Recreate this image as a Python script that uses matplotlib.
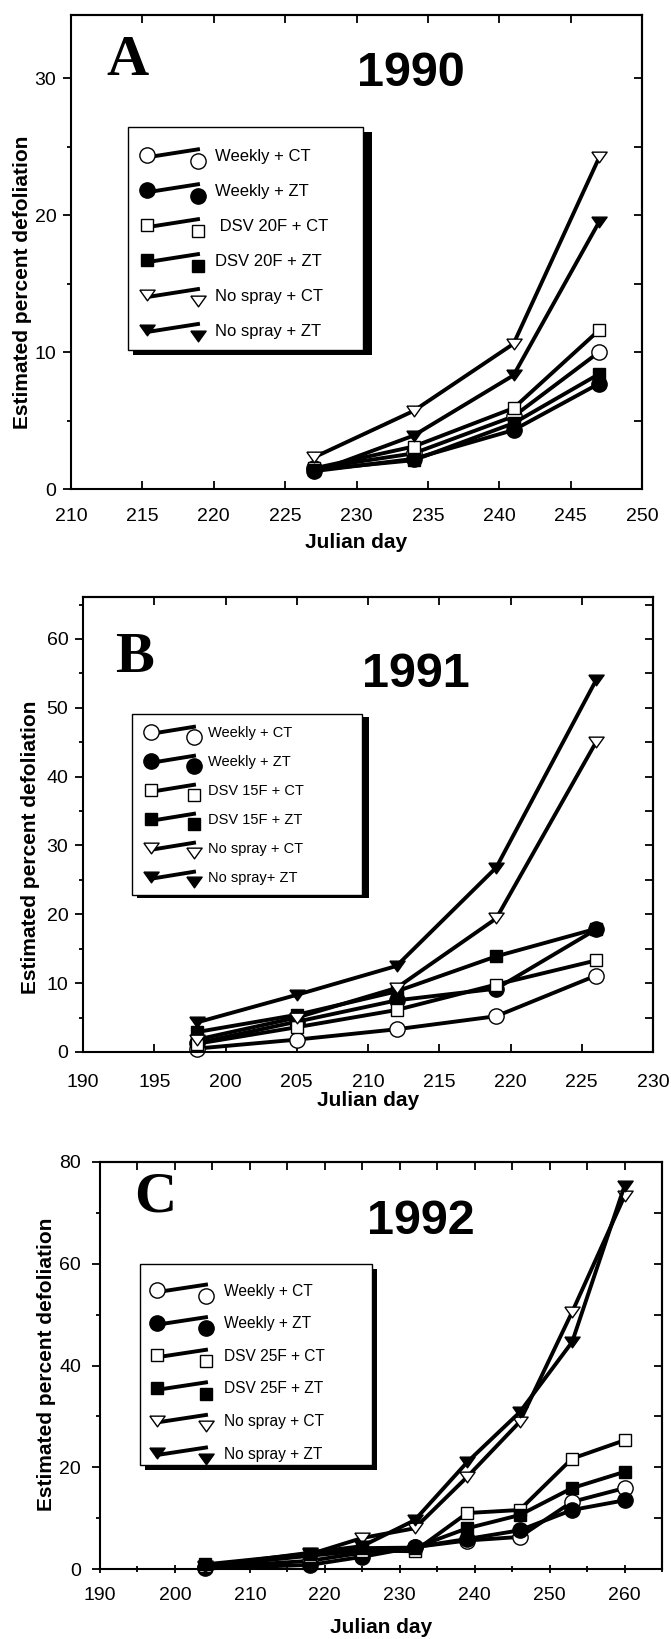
import matplotlib.pyplot as plt
from matplotlib.ticker import MultipleLocator
from matplotlib.patches import Rectangle
from matplotlib.lines import Line2D
from matplotlib.legend_handler import HandlerLine2D

W, H = 671, 1639

# ---- 1990 (panel A)
days_1990 = [227, 234, 241, 247]
weekly_ct_1990 = [1.5, 2.6, 5.3, 10.0]
weekly_zt_1990 = [1.3, 2.2, 4.3, 7.7]
dsv_ct_1990 = [1.5, 3.1, 5.9, 11.6]
dsv_zt_1990 = [1.4, 2.1, 4.8, 8.4]
nospray_ct_1990 = [2.3, 5.7, 10.6, 24.2]
nospray_zt_1990 = [1.2, 3.9, 8.3, 19.5]
labels_1990 = ["Weekly + CT", "Weekly + ZT", " DSV 20F + CT", "DSV 20F + ZT",
               "No spray + CT", "No spray + ZT"]

# ---- 1991 (panel B)
days_1991 = [198, 205, 212, 219, 226]
weekly_ct_1991 = [0.5, 1.8, 3.3, 5.2, 11.1]
weekly_zt_1991 = [1.3, 4.4, 7.5, 9.2, 17.8]
dsv_ct_1991 = [1.2, 3.6, 6.1, 9.8, 13.3]
dsv_zt_1991 = [2.9, 5.4, 8.8, 13.9, 17.9]
nospray_ct_1991 = [1.8, 5.0, 9.3, 19.4, 45.0]
nospray_zt_1991 = [4.3, 8.3, 12.5, 26.8, 54.0]
labels_1991 = ["Weekly + CT", "Weekly + ZT", "DSV 15F + CT", "DSV 15F + ZT",
               "No spray + CT", "No spray+ ZT"]

# ---- 1992 (panel C)
days_1992 = [204, 218, 225, 232, 239, 246, 253, 260]
weekly_ct_1992 = [0.3, 1.6, 3.2, 4.3, 5.6, 6.3, 13.2, 15.9]
weekly_zt_1992 = [0.1, 0.8, 2.4, 4.3, 5.9, 7.6, 11.6, 13.5]
dsv_ct_1992 = [0.5, 2.6, 3.6, 3.5, 11.0, 11.6, 21.7, 25.3]
dsv_zt_1992 = [0.9, 3.0, 4.1, 4.2, 8.0, 10.6, 15.9, 19.1]
nospray_ct_1992 = [0.4, 2.9, 6.1, 8.0, 18.1, 28.9, 50.5, 73.3]
nospray_zt_1992 = [0.5, 3.2, 4.5, 9.6, 21.0, 30.8, 44.6, 75.3]
labels_1992 = ["Weekly + CT", "Weekly + ZT", "DSV 25F + CT", "DSV 25F + ZT",
               "No spray + CT", "No spray + ZT"]

# marker style per treatment (open = CT, filled = ZT)
TRI = [(-1, 0.7), (1, 0.7), (0, -0.7), (-1, 0.7)]
MARKERS = [("o", "white", 11), ("o", "black", 11), ("s", "white", 8),
           ("s", "black", 8), (TRI, "white", 11), (TRI, "black", 11)]

plt.rcParams['font.family'] = ['Liberation Sans', 'DejaVu Sans']


class SlantHandler(HandlerLine2D):
    """Legend key like the original: line tilted up, right marker dropped."""

    def create_artists(self, legend, orig_handle, xdescent, ydescent,
                       width, height, fontsize, trans):
        line = super().create_artists(legend, orig_handle, xdescent, ydescent,
                                      width, height, fontsize, trans)[0]
        x = line.get_xdata()
        y0 = (height - ydescent) / 2
        marks = Line2D(x, [y0, y0 - 0.36 * fontsize])
        marks.update_from(line)
        marks.set_linestyle("None")
        marks.set_transform(trans)
        line.set_marker("None")
        line.set_ydata([y0 - 0.12 * fontsize, y0 + 0.36 * fontsize])
        return [line, marks]


def fx(px):
    return px / W


def fy(py):
    return 1 - py / H


def draw_panel(fig, days, series, labels, lay):
    left, top, right, bottom = lay["box"]
    ax = fig.add_axes([fx(left), fy(bottom), (right - left) / W, (bottom - top) / H])

    handles = []
    for vals, (mk, fc, ms) in zip(series, MARKERS):
        ln, = ax.plot(days, vals, color="black", lw=2.8, marker=mk, ms=ms,
                      mfc=fc, mec="black", mew=1.0, clip_on=False)
        handles.append(ln)

    ax.set_xlim(*lay["xlim"])
    ax.set_ylim(*lay["ylim"])
    ax.xaxis.set_major_locator(MultipleLocator(lay["xstep"]))
    ax.xaxis.set_minor_locator(MultipleLocator(5))
    ax.yaxis.set_major_locator(MultipleLocator(lay["ystep"]))
    ax.yaxis.set_minor_locator(MultipleLocator(lay["ystep"] / 2))
    ax.tick_params(axis="x", which="both", direction=lay["xdir"], top=False,
                   labelsize=14, pad=lay["xpad"], width=1.3)
    ax.tick_params(axis="x", which="major", length=6)
    ax.tick_params(axis="x", which="minor", length=4)
    ax.tick_params(axis="y", which="both", direction="out", right=False,
                   labelsize=14, pad=lay["ypad"], width=1.3)
    ax.tick_params(axis="y", which="major", length=6)
    ax.tick_params(axis="y", which="minor", length=3)
    for sp in ax.spines.values():
        sp.set_linewidth(1.5)

    sec_x = ax.secondary_xaxis("top")
    sec_x.xaxis.set_major_locator(MultipleLocator(5))
    sec_x.tick_params(direction="in", length=6, width=1.3, labeltop=False)
    sec_y = ax.secondary_yaxis("right")
    sec_y.yaxis.set_major_locator(MultipleLocator(lay["rstep"]))
    sec_y.tick_params(direction="in", length=6, width=1.3, labelright=False)
    for sec in (sec_x, sec_y):
        for sp in sec.spines.values():
            sp.set_linewidth(1.5)

    # legend entries, box and offset shadow
    fs = lay["legfs"]
    fs_px = fs * 100 / 72
    mL, mR, tX = lay["legx"]
    ax.legend(handles, labels, loc="upper left", frameon=False, numpoints=2,
              handler_map={Line2D: SlantHandler()},
              bbox_to_anchor=(fx(mL - 0.3 * fs_px), fy(lay["legrow"] - 0.47 * fs_px)),
              bbox_transform=fig.transFigure, borderpad=0, borderaxespad=0,
              fontsize=fs, handlelength=(mR - mL) / fs_px + 0.6,
              handletextpad=(tX - mR - 0.3 * fs_px) / fs_px,
              labelspacing=lay["legpitch"] / fs_px - 0.94)
    bl, bt, br, bb = lay["legbox"]
    sx, sy = lay["shadow"]
    shadow = Rectangle((fx(bl + 5), fy(bb + sy)), (br - bl + sx - 5) / W, (bb - bt) / H,
                       transform=fig.transFigure, facecolor="black", edgecolor="none",
                       zorder=4.7, clip_on=False)
    frame = Rectangle((fx(bl), fy(bb)), (br - bl) / W, (bb - bt) / H,
                      transform=fig.transFigure, facecolor="white", edgecolor="black",
                      lw=1.0, zorder=4.8, clip_on=False)
    ax.add_artist(shadow)
    ax.add_artist(frame)

    # panel letter, year, axis titles
    lx, ly = lay["letter"]
    fig.text(fx(lx), fy(ly), lay["tag"], family=["Liberation Serif", "DejaVu Serif"],
             weight="bold", size=42, ha="center", va="baseline")
    yx, yy = lay["year_pos"]
    fig.text(fx(yx), fy(yy), lay["year"], weight="bold", size=35,
             ha="center", va="baseline")
    fig.text(fx((left + right) / 2), fy(lay["xlab_y"]), "Julian day", weight="bold",
             size=15, ha="center", va="baseline")
    ylx, yly = lay["ylab"]
    fig.text(fx(ylx), fy(yly), "Estimated percent defoliation", weight="bold",
             size=15, rotation=90, ha="center", va="center")
    return ax


fig = plt.figure(figsize=(W / 100, H / 100), dpi=100)

draw_panel(fig, days_1990,
           [weekly_ct_1990, weekly_zt_1990, dsv_ct_1990, dsv_zt_1990,
            nospray_ct_1990, nospray_zt_1990], labels_1990,
           dict(box=(71, 15, 642, 489), xlim=(210, 250), ylim=(0, 34.6),
                xstep=5, ystep=10, rstep=5, xdir="in", xpad=14, ypad=4.5,
                legfs=12, legx=(147, 198, 215), legrow=157, legpitch=35.6,
                legbox=(128, 127, 363, 350), shadow=(9, 5),
                tag="A", letter=(127, 75), year="1990", year_pos=(411, 86),
                xlab_y=548, ylab=(23, 282)))

draw_panel(fig, days_1991,
           [weekly_ct_1991, weekly_zt_1991, dsv_ct_1991, dsv_zt_1991,
            nospray_ct_1991, nospray_zt_1991], labels_1991,
           dict(box=(83, 597, 653, 1052), xlim=(190, 230), ylim=(0, 66.1),
                xstep=5, ystep=10, rstep=5, xdir="in", xpad=15.5, ypad=4.5,
                legfs=10.5, legx=(151, 194, 208), legrow=733, legpitch=28.7,
                legbox=(132, 714, 362, 895), shadow=(7, 3),
                tag="B", letter=(135, 672), year="1991", year_pos=(416, 687),
                xlab_y=1106, ylab=(31, 847)))

draw_panel(fig, days_1992,
           [weekly_ct_1992, weekly_zt_1992, dsv_ct_1992, dsv_zt_1992,
            nospray_ct_1992, nospray_zt_1992], labels_1992,
           dict(box=(100, 1162, 662, 1569), xlim=(190, 265), ylim=(0, 80),
                xstep=10, ystep=20, rstep=10, xdir="inout", xpad=10, ypad=7.7,
                legfs=11.2, legx=(157, 206, 224), legrow=1291, legpitch=32.2,
                legbox=(140, 1264, 372, 1465), shadow=(5, 5),
                tag="C", letter=(155, 1212), year="1992", year_pos=(421, 1234),
                xlab_y=1633, ylab=(47, 1364)))

fig.savefig("out.png", dpi=100)
